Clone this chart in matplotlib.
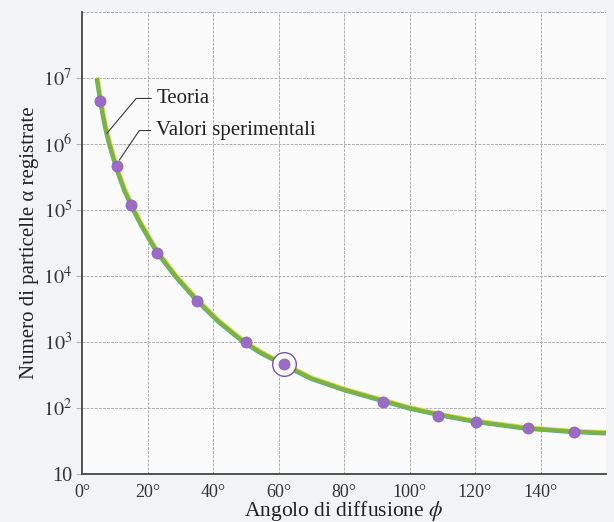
import matplotlib
matplotlib.use("Agg")
import matplotlib.pyplot as plt
import matplotlib.patheffects as pe

plt.rcParams["font.family"] = ["Liberation Serif", "DejaVu Serif"]
plt.rcParams["mathtext.fontset"] = "stix"

# ---- data -------------------------------------------------------------------
# theory curve (angle in degrees, counts)
theory_angle = [4.6, 5.5, 6.5, 7.5, 8.4, 10.6, 13, 15.8, 18.1, 23, 28.6, 35,
                41.8, 49.5, 55, 62, 70, 80, 90, 100, 110, 120, 135, 150, 160]
theory_counts = [1.0e7, 5.0e6, 2.63e6, 1.51e6, 1.0e6, 4.27e5, 2.0e5, 1.0e5,
                 6.0e4, 2.29e4, 1.0e4, 4.37e3, 2.04e3, 1.0e3, 676, 447, 282,
                 191, 138, 100, 78, 63, 50, 44, 42]

# measured values
exp_angle = [5.6, 10.6, 15.0, 23.0, 35.1, 50.2, 61.7, 91.9, 108.6, 120.3, 136.1, 150.2]
exp_counts = [4.5e6, 4.6e5, 1.17e5, 2.2e4, 4.2e3, 1.0e3, 460, 122, 76, 62, 50, 44]
highlight_idx = 6

x_ticks = [0, 20, 40, 60, 80, 100, 120, 140]
x_labels = ["0°", "20°", "40°", "60°", "80°", "100°", "120°", "140°"]
y_ticks = [10, 1e2, 1e3, 1e4, 1e5, 1e6, 1e7]
y_labels = ["10", "$10^2$", "$10^3$", "$10^4$", "$10^5$", "$10^6$", "$10^7$"]

# ---- plot ------------------------------------------------------------------
fig = plt.figure(figsize=(6.14, 5.22), dpi=100, facecolor="#f2f3f5")
ax = fig.add_axes([82 / 614, 1 - 474 / 522, 524 / 614, 462 / 522])
ax.set_facecolor("#fbfbfc")

ax.set_yscale("log")
ax.set_xlim(0, 160)
ax.set_ylim(10, 1e8)

# grid (also serves as top/right border)
grid_kw = dict(color="#b0b0b0", lw=0.7, ls=(0, (3, 1.2)), zorder=1)
for xv in range(20, 161, 20):
    ax.axvline(xv, **grid_kw)
for yv in [1e2, 1e3, 1e4, 1e5, 1e6, 1e7, 1e8]:
    ax.axhline(yv, **grid_kw)

ax.plot(theory_angle, theory_counts, color="#7db245", lw=2.8, zorder=3,
        solid_capstyle="butt",
        path_effects=[
            pe.SimpleLineShadow(offset=(0.5, 0.6), shadow_color="#dfe356", alpha=1, rho=1),
            pe.SimpleLineShadow(offset=(-0.3, -0.5), shadow_color="#62a89c", alpha=1, rho=1),
            pe.Normal(),
        ])

ax.plot(exp_angle[highlight_idx], exp_counts[highlight_idx], "o", ms=17,
        mfc="white", mec="#7b55a6", mew=1.0, zorder=4)
ax.plot(exp_angle, exp_counts, "o", ms=8, color="#9b6cc4", mec="#8d5fb8",
        mew=0.5, zorder=5)

# annotations
ann_kw = dict(arrowstyle="-", color="#3a3a3a", lw=0.8, shrinkA=2, shrinkB=0)
ax.annotate("Teoria", xy=(7.6, 1.45e6), xytext=(22.9, 4.9e6),
            ha="left", va="center", fontsize=15, color="#222",
            arrowprops=dict(connectionstyle="angle,angleA=0,angleB=50,rad=0", **ann_kw))
ax.annotate("Valori sperimentali", xy=(11.4, 5.7e5), xytext=(22.7, 1.6e6),
            ha="left", va="center", fontsize=15, color="#222",
            arrowprops=dict(connectionstyle="angle,angleA=0,angleB=56,rad=0", **ann_kw))

ax.set_xticks(x_ticks)
ax.set_xticklabels(x_labels)
ax.set_yticks(y_ticks)
ax.set_yticklabels(y_labels)
ax.minorticks_off()
ax.tick_params(axis="x", length=0, pad=7, labelsize=13, labelcolor="#333")
ax.tick_params(axis="y", length=4, color="#b0b0b0", pad=3, labelsize=14.5,
               labelcolor="#333")

for s in ["top", "right"]:
    ax.spines[s].set_visible(False)
for s in ["left", "bottom"]:
    ax.spines[s].set_color("#444")
    ax.spines[s].set_linewidth(1.3)

ax.set_xlabel("Angolo di diffusione $\\phi$", fontsize=15.5, color="#222", labelpad=-1)
ax.set_ylabel("Numero di particelle α registrate", fontsize=15, color="#222",
              labelpad=3)

fig.savefig("out.png", dpi=100, facecolor=fig.get_facecolor())
